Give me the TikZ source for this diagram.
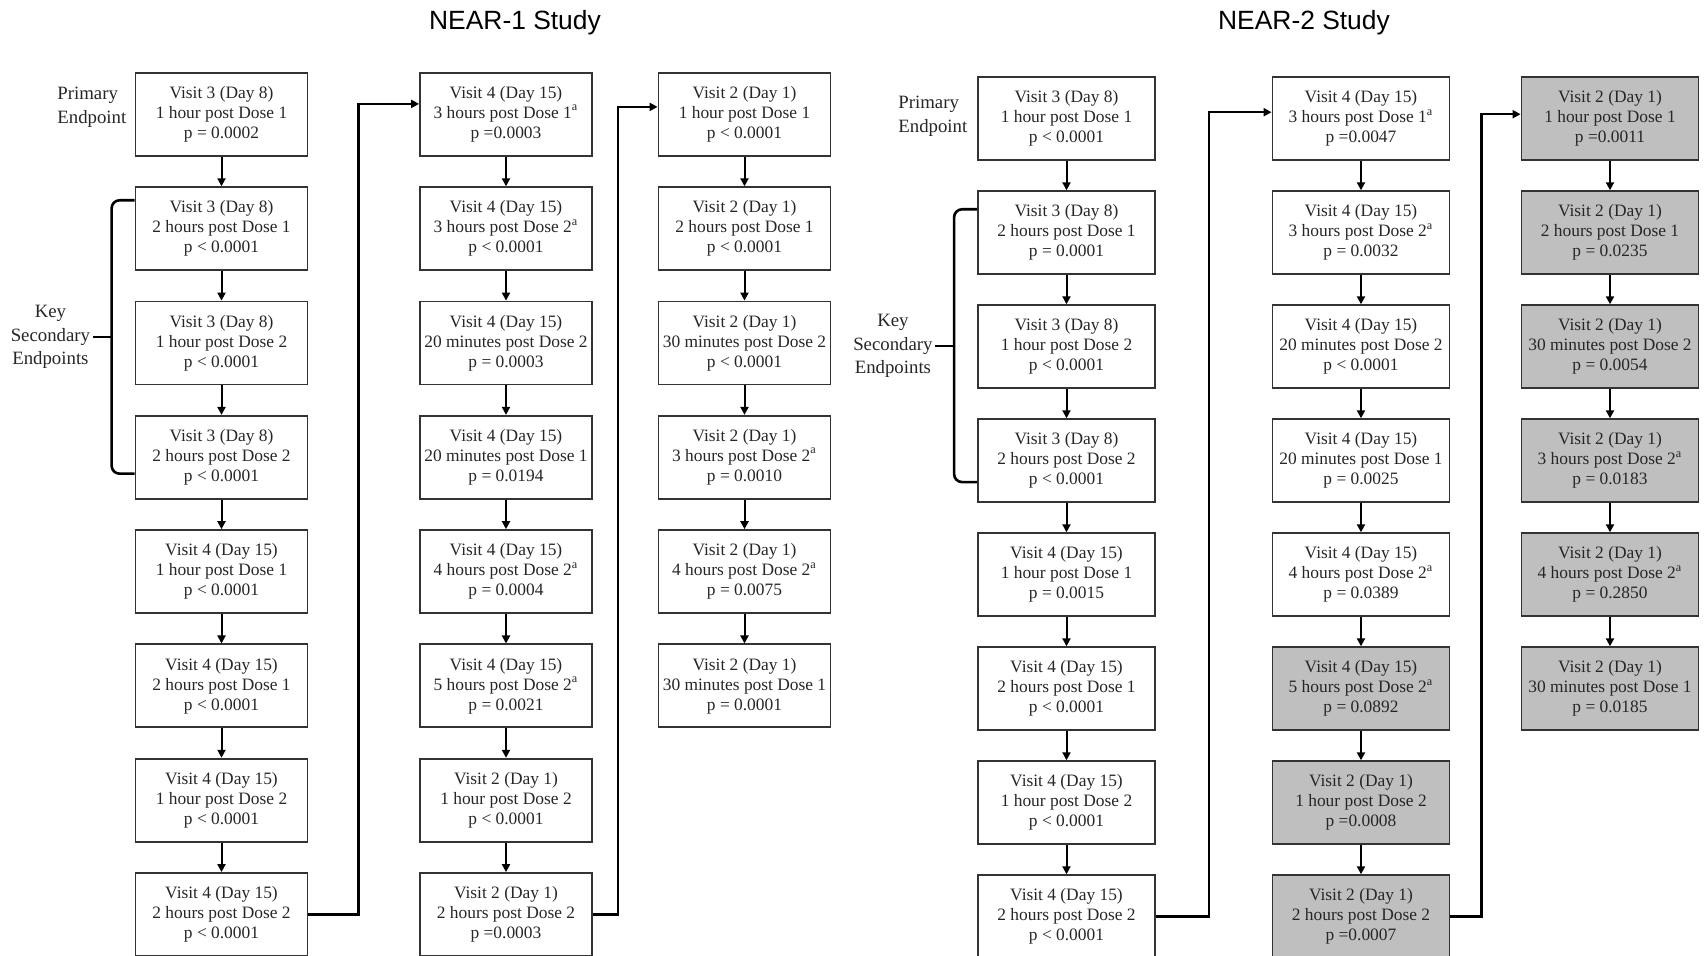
\documentclass[tikz,border=0pt]{standalone}
\usepackage{fontspec}
\setmainfont{Liberation Serif}
\newfontfamily\titlefont{Liberation Sans}
\usetikzlibrary{arrows.meta,calc}
\begin{document}
\begin{tikzpicture}[x=0.5pt,y=-0.5pt,
 box/.style={draw=black!80,line width=0.9pt,minimum width=86pt,minimum height=41.5pt,inner sep=0pt,align=center,text=black!85,font=\fontsize{8.7}{10}\selectfont},
 wbox/.style={box,minimum width=88.5pt},
 gbox/.style={wbox,fill=black!25},
 arr/.style={draw=black,line width=1pt,-{Triangle[length=4pt,width=4pt]}},
 conn/.style={arr,line width=1.2pt},
 brk/.style={draw=black,line width=1.3pt,rounded corners=4pt},
 lbl/.style={text=black!85,font=\fontsize{9.4}{11.8}\selectfont,inner sep=1pt},
 ttl/.style={font=\titlefont\fontsize{13.2}{15}\selectfont}]
\useasboundingbox (0,0) rectangle (1705,956);
\clip (0,0) rectangle (1705,956);
% titles
\node[ttl] (t1) at (515,23) {NEAR-1 Study};
\node[ttl] (t2) at (1304,23) {NEAR-2 Study};
% ---------------- NEAR-1 column 1
\node[box] (a1) at (221.5,114.4) {Visit 3 (Day 8)\\1 hour post Dose 1\\p = 0.0002};
\node[box] (a2) at (221.5,228.7) {Visit 3 (Day 8)\\2 hours post Dose 1\\p < 0.0001};
\node[box] (a3) at (221.5,343.0) {Visit 3 (Day 8)\\1 hour post Dose 2\\p < 0.0001};
\node[box] (a4) at (221.5,457.3) {Visit 3 (Day 8)\\2 hours post Dose 2\\p < 0.0001};
\node[box] (a5) at (221.5,571.6) {Visit 4 (Day 15)\\1 hour post Dose 1\\p < 0.0001};
\node[box] (a6) at (221.5,685.9) {Visit 4 (Day 15)\\2 hours post Dose 1\\p < 0.0001};
\node[box] (a7) at (221.5,800.2) {Visit 4 (Day 15)\\1 hour post Dose 2\\p < 0.0001};
\node[box] (a8) at (221.5,914.5) {Visit 4 (Day 15)\\2 hours post Dose 2\\p < 0.0001};
% NEAR-1 column 2
\node[box] (b1) at (506,114.4) {Visit 4 (Day 15)\\3 hours post Dose 1\textsuperscript{a}\\p =0.0003};
\node[box] (b2) at (506,228.7) {Visit 4 (Day 15)\\3 hours post Dose 2\textsuperscript{a}\\p < 0.0001};
\node[box] (b3) at (506,343.0) {Visit 4 (Day 15)\\20 minutes post Dose 2\\p = 0.0003};
\node[box] (b4) at (506,457.3) {Visit 4 (Day 15)\\20 minutes post Dose 1\\p = 0.0194};
\node[box] (b5) at (506,571.6) {Visit 4 (Day 15)\\4 hours post Dose 2\textsuperscript{a}\\p = 0.0004};
\node[box] (b6) at (506,685.9) {Visit 4 (Day 15)\\5 hours post Dose 2\textsuperscript{a}\\p = 0.0021};
\node[box] (b7) at (506,800.2) {Visit 2 (Day 1)\\1 hour post Dose 2\\p < 0.0001};
\node[box] (b8) at (506,914.5) {Visit 2 (Day 1)\\2 hours post Dose 2\\p =0.0003};
% NEAR-1 column 3
\node[box] (c1) at (744.5,114.4) {Visit 2 (Day 1)\\1 hour post Dose 1\\p < 0.0001};
\node[box] (c2) at (744.5,228.7) {Visit 2 (Day 1)\\2 hours post Dose 1\\p < 0.0001};
\node[box] (c3) at (744.5,343.0) {Visit 2 (Day 1)\\30 minutes post Dose 2\\p < 0.0001};
\node[box] (c4) at (744.5,457.3) {Visit 2 (Day 1)\\3 hours post Dose 2\textsuperscript{a}\\p = 0.0010};
\node[box] (c5) at (744.5,571.6) {Visit 2 (Day 1)\\4 hours post Dose 2\textsuperscript{a}\\p = 0.0075};
\node[box] (c6) at (744.5,685.9) {Visit 2 (Day 1)\\30 minutes post Dose 1\\p = 0.0001};
% ---------------- NEAR-2 column 1
\node[wbox] (d1) at (1066.5,118.7) {Visit 3 (Day 8)\\1 hour post Dose 1\\p < 0.0001};
\node[wbox] (d2) at (1066.5,232.7) {Visit 3 (Day 8)\\2 hours post Dose 1\\p = 0.0001};
\node[wbox] (d3) at (1066.5,346.7) {Visit 3 (Day 8)\\1 hour post Dose 2\\p < 0.0001};
\node[wbox] (d4) at (1066.5,460.7) {Visit 3 (Day 8)\\2 hours post Dose 2\\p < 0.0001};
\node[wbox] (d5) at (1066.5,574.7) {Visit 4 (Day 15)\\1 hour post Dose 1\\p = 0.0015};
\node[wbox] (d6) at (1066.5,688.7) {Visit 4 (Day 15)\\2 hours post Dose 1\\p < 0.0001};
\node[wbox] (d7) at (1066.5,802.7) {Visit 4 (Day 15)\\1 hour post Dose 2\\p < 0.0001};
\node[wbox] (d8) at (1066.5,916.7) {Visit 4 (Day 15)\\2 hours post Dose 2\\p < 0.0001};
% NEAR-2 column 2
\node[wbox] (e1) at (1361,118.7) {Visit 4 (Day 15)\\3 hours post Dose 1\textsuperscript{a}\\p =0.0047};
\node[wbox] (e2) at (1361,232.7) {Visit 4 (Day 15)\\3 hours post Dose 2\textsuperscript{a}\\p = 0.0032};
\node[wbox] (e3) at (1361,346.7) {Visit 4 (Day 15)\\20 minutes post Dose 2\\p < 0.0001};
\node[wbox] (e4) at (1361,460.7) {Visit 4 (Day 15)\\20 minutes post Dose 1\\p = 0.0025};
\node[wbox] (e5) at (1361,574.7) {Visit 4 (Day 15)\\4 hours post Dose 2\textsuperscript{a}\\p = 0.0389};
\node[gbox] (e6) at (1361,688.7) {Visit 4 (Day 15)\\5 hours post Dose 2\textsuperscript{a}\\p = 0.0892};
\node[gbox] (e7) at (1361,802.7) {Visit 2 (Day 1)\\1 hour post Dose 2\\p =0.0008};
\node[gbox] (e8) at (1361,916.7) {Visit 2 (Day 1)\\2 hours post Dose 2\\p =0.0007};
% NEAR-2 column 3
\node[gbox] (f1) at (1610,118.7) {Visit 2 (Day 1)\\1 hour post Dose 1\\p =0.0011};
\node[gbox] (f2) at (1610,232.7) {Visit 2 (Day 1)\\2 hours post Dose 1\\p = 0.0235};
\node[gbox] (f3) at (1610,346.7) {Visit 2 (Day 1)\\30 minutes post Dose 2\\p = 0.0054};
\node[gbox] (f4) at (1610,460.7) {Visit 2 (Day 1)\\3 hours post Dose 2\textsuperscript{a}\\p = 0.0183};
\node[gbox] (f5) at (1610,574.7) {Visit 2 (Day 1)\\4 hours post Dose 2\textsuperscript{a}\\p = 0.2850};
\node[gbox] (f6) at (1610,688.7) {Visit 2 (Day 1)\\30 minutes post Dose 1\\p = 0.0185};
% vertical arrows
\foreach \c/\n in {a/8,b/8,c/6,d/8,e/8,f/6}{
  \foreach \i [evaluate=\i as \j using int(\i+1)] in {1,...,7}{
    \ifnum\i<\n \draw[arr] (\c\i) -- (\c\j);\fi
  }
}
% long connectors
\draw[conn] (a8.east) -- ++(50,0) |- ($(b1.west)+(0,-10.5)$);
\draw[conn] (b8.east) -- ++(25,0) |- ($(c1.west)+(0,-7.5)$);
\draw[conn] (d8.east) -- ++(53,0) |- ($(e1.west)+(0,-6.5)$);
\draw[conn] (e8.east) -- ++(31,0) |- ($(f1.west)+(0,-4.5)$);
% labels NEAR-1
\node[lbl,align=left,anchor=west] (p1) at (55,107) {Primary\\Endpoint};
\draw[brk] ($(a2.north west)+(0,14)$) -- ++(-23,0) -- ($(a4.south west)+(-23,-26)$) -- ($(a4.south west)+(0,-26)$);
\coordinate (k1) at (112.5,337);
\draw[brk] (k1) -- ++(-20,0) coordinate (k1e);
\node[lbl,align=center,anchor=east] (s1) at (k1e) {Key\\Secondary\\Endpoints};
% labels NEAR-2
\node[lbl,align=left,anchor=west] (p2) at (896,116) {Primary\\Endpoint};
\draw[brk] ($(d2.north west)+(0,19)$) -- ++(-23,0) -- ($(d4.south west)+(-23,-21)$) -- ($(d4.south west)+(0,-21)$);
\coordinate (k2) at (955,346);
\draw[brk] (k2) -- ++(-20,0) coordinate (k2e);
\node[lbl,align=center,anchor=east] (s2) at (k2e) {Key\\Secondary\\Endpoints};
\end{tikzpicture}
\end{document}
